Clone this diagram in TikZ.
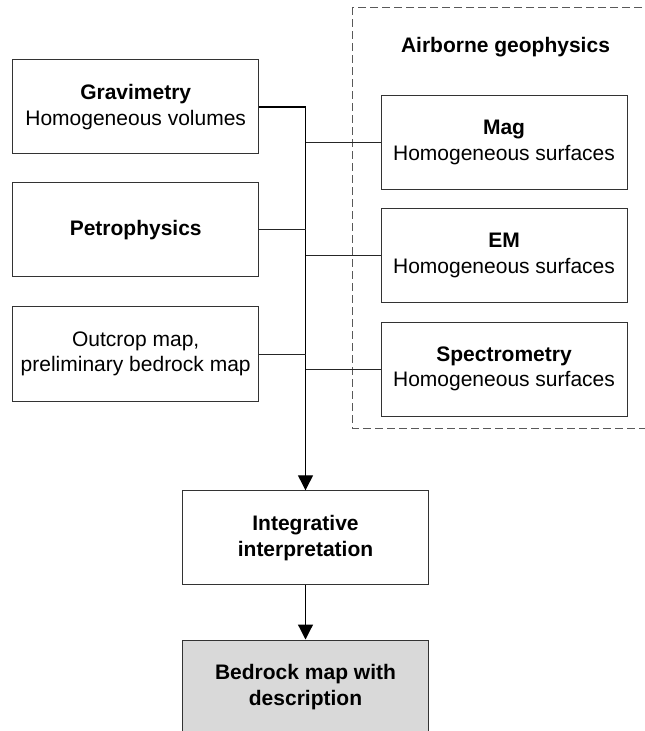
\documentclass[tikz,border=0pt]{standalone}
\usepackage{fontspec}
\setmainfont{Liberation Sans}
\usetikzlibrary{arrows.meta}

\begin{document}
\begin{tikzpicture}[x=0.5pt,y=-0.5pt,
  font=\fontsize{10.5}{12.8}\selectfont,
  box/.style={draw=black!80,line width=0.5pt,inner sep=0pt,minimum width=123pt,minimum height=47pt,align=center},
  link/.style={draw=black!85,line width=0.5pt},
  arr/.style={draw=black,line width=0.6pt,-{Triangle[length=7.5pt,width=7.5pt]}}]
\useasboundingbox (0,0) rectangle (644,731);
\draw[draw=black!65,line width=0.5pt,dash pattern=on 4pt off 2pt] (352.7,7.3) rectangle (670,428.7);
\node (air) at (505.5,47) {\textbf{Airborne geophysics}};
\node[box] (grav) at (135.7,107) {\textbf{Gravimetry}\\Homogeneous volumes};
\node[box] (petro) at (135.7,230) {\textbf{Petrophysics}};
\node[box] (outcrop) at (135.7,354) {Outcrop map,\\preliminary bedrock map};
\node[box] (mag) at (504,142.2) {\textbf{Mag}\\Homogeneous surfaces};
\node[box] (em) at (504,255.5) {\textbf{EM}\\Homogeneous surfaces};
\node[box] (spec) at (504,369) {\textbf{Spectrometry}\\Homogeneous surfaces};
\node[box] (integ) at (305.5,537.8) {\textbf{Integrative}\\\textbf{interpretation}};
\node[box,fill=black!15] (bedrock) at (305.5,687) {\textbf{Bedrock map with}\\\textbf{description}};
\draw[arr] (grav.east) -| (integ.north);
\draw[link] (petro.east) -- (petro.east -| integ.north);
\draw[link] (outcrop.east) -- (outcrop.east -| integ.north);
\draw[link] (mag.west) -- (mag.west -| integ.north);
\draw[link] (em.west) -- (em.west -| integ.north);
\draw[link] (spec.west) -- (spec.west -| integ.north);
\draw[arr] (integ.south) -- (bedrock.north);
\end{tikzpicture}
\end{document}
